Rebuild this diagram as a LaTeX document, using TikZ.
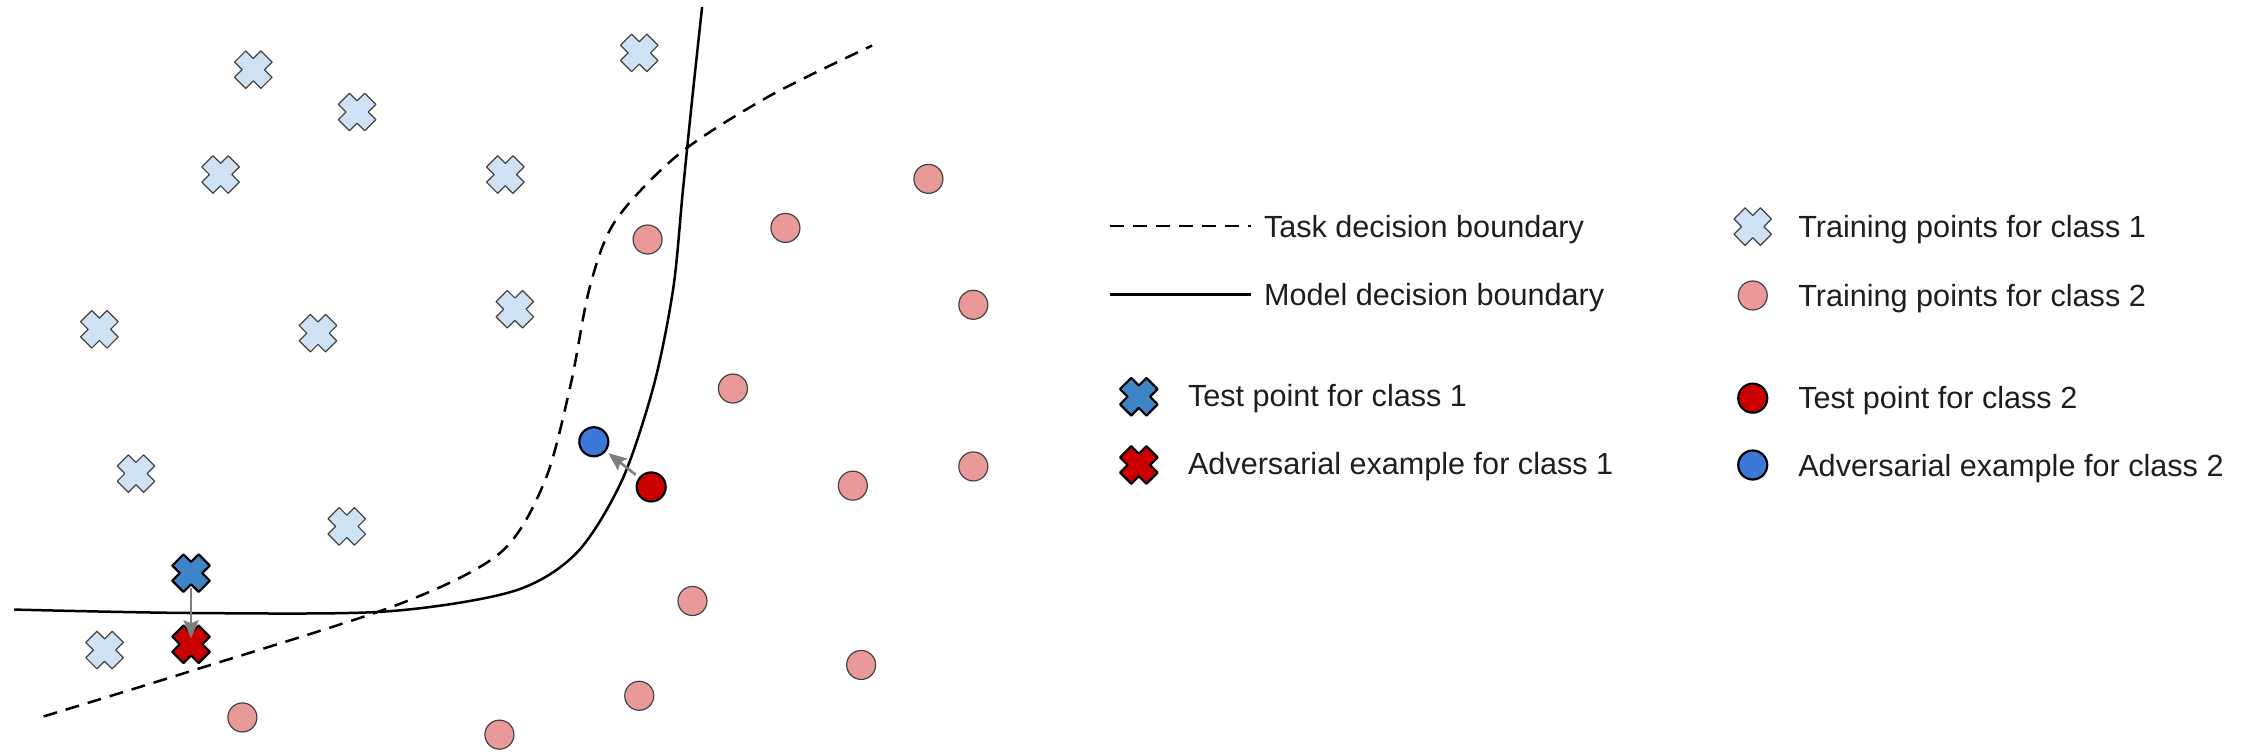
\documentclass[tikz,border=0pt]{standalone}
\usepackage{fontspec}
\setmainfont{Liberation Sans}
\usetikzlibrary{arrows.meta}

\definecolor{trainblue}{HTML}{CFE2F3}
\definecolor{trainred}{HTML}{EA9999}
\definecolor{testblue}{HTML}{3D85C6}
\definecolor{advblue}{HTML}{3C78D8}
\definecolor{testred}{HTML}{CC0000}
\definecolor{edgegray}{HTML}{434343}
\definecolor{arrowgray}{HTML}{7F7F7F}
\definecolor{labeltext}{HTML}{1E1E1E}

\tikzset{
  xmark/.style={minimum size=22pt, inner sep=0pt,
    path picture={\draw[#1, shift={(path picture bounding box.center)}, line join=round]
      (0,7.8) -- (5.3,13.1) -- (13.1,5.3) -- (7.8,0) -- (13.1,-5.3) -- (5.3,-13.1) -- (0,-7.8)
      -- (-5.3,-13.1) -- (-13.1,-5.3) -- (-7.8,0) -- (-13.1,5.3) -- (-5.3,13.1) -- cycle;}},
  trainx/.style={xmark={fill=trainblue, draw=edgegray, line width=0.6pt}},
  testx/.style={xmark={fill=testblue, draw=black, line width=1.1pt}},
  advx/.style={xmark={fill=testred, draw=black, line width=1.1pt}},
  dot/.style={circle, minimum size=14.5pt, inner sep=0pt},
  traindot/.style={dot, fill=trainred, draw=edgegray, line width=0.6pt},
  testdot/.style={dot, fill=testred, draw=black, line width=1.1pt},
  advdot/.style={dot, fill=advblue, draw=black, line width=1.1pt},
  advarrow/.style={draw=arrowgray, line width=1.3pt,
    -{Stealth[length=9pt, width=7.5pt, inset=1.5pt]}},
  taskline/.style={line width=1.25pt, dash pattern=on 7pt off 4.5pt},
  modelline/.style={line width=1.25pt},
  legend/.style={anchor=base west, inner sep=0pt, text=labeltext,
    font=\fontsize{15.3}{18}\selectfont}
}

\begin{document}
\begin{tikzpicture}[x=0.717pt, y=-0.717pt]
    \useasboundingbox (0,0) rectangle (1568,527);

    % The boundaries:
    \draw[taskline] plot[smooth] coordinates {(30.4,499.5) (134,467.6) (277,421.7) (348.7,385.5)
        (380,335) (397.9,268) (411,201) (429,154) (473.9,107) (536.4,67) (608,31.8)};
    \draw[modelline] plot[smooth] coordinates {(9.8,425) (134,427.4) (268,426.4) (357.6,412.3)
        (402,385.5) (433.6,335) (456,268) (469.4,201) (476,134) (482.8,67) (489.5,5)};

    % The training points:
    \foreach \px/\py [count=\i] in {176.6/48.6, 249/78.1, 445.7/36.9, 153.8/121.7, 352.3/121.7,
        69.3/229.6, 221.7/232.3, 359/215.6, 94.8/330.2, 241.8/367, 72.9/453.2}
        \node[trainx] (one-\i) at (\px,\py) {};
    \foreach \px/\py [count=\i] in {451.5/167, 547.6/158.9, 647.3/124.7, 678.6/212.5, 511/270.9,
        594.6/338.6, 678.6/325.2, 482.8/419, 600.4/463.6, 445.7/485.1, 169/500.2, 348.2/512.2}
        \node[traindot] (two-\i) at (\px,\py) {};

    % The test points and their adversarial examples:
    \node[testx] (test1) at (133.2,399.6) {};
    \node[advx] (adv1) at (133.2,449.2) {};
    \node[testdot] (test2) at (454,339.5) {};
    \node[advdot] (adv2) at (414,308) {};
    \draw[advarrow, shorten <=7.5pt, shorten >=3pt] (test1.center) -- (adv1.center);
    \draw[advarrow, shorten <=2pt, shorten >=1.5pt] (test2) -- (adv2);

    % The legend:
    \draw[taskline] (774,157.6) -- (872,157.6);
    \draw[modelline] (774,205.2) -- (872,205.2);
    \node[legend] (tasktext) at (881,165.5) {Task decision boundary};
    \node[legend] (modeltext) at (881,212.7) {Model decision boundary};
    \node[testx] (keytest1) at (794,276.6) {};
    \node[advx] (keyadv1) at (794,324.2) {};
    \node[legend] (test1text) at (828,283.5) {Test point for class 1};
    \node[legend] (adv1text) at (828,331) {Adversarial example for class 1};
    \node[trainx] (keyone) at (1222,158) {};
    \node[traindot] (keytwo) at (1222,206) {};
    \node[testdot] (keytest2) at (1222,277.6) {};
    \node[advdot] (keyadv2) at (1222,324.2) {};
    \node[legend] (onetext) at (1253.5,165.5) {Training points for class 1};
    \node[legend] (twotext) at (1253.5,213.5) {Training points for class 2};
    \node[legend] (test2text) at (1253.5,284.7) {Test point for class 2};
    \node[legend] (adv2text) at (1253.5,332) {Adversarial example for class 2};
\end{tikzpicture}
\end{document}
